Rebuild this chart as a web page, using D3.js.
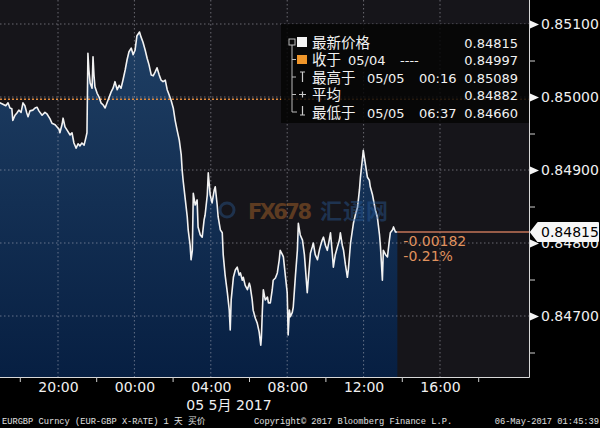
<!DOCTYPE html>
<html><head><meta charset="utf-8">
<script src="https://cdn.jsdelivr.net/npm/d3@7"></script>
<style>
html,body{margin:0;padding:0;background:#000;}
svg{display:block;}
</style></head><body>
<svg id="c" width="600" height="428"></svg>
<script>
// ---- data (EURGBP, 4-5 May 2017) ----
const times = ["16:57","17:07","17:16","17:23","17:29","17:35","17:38","17:45","17:51","17:57","18:04","18:10","18:16","18:22","18:26","18:32","18:41","18:48","18:54","19:00","19:10","19:19","19:25","19:35","19:41","19:51","19:57","20:03","20:06","20:13","20:16","20:22","20:28","20:38","20:44","20:50","20:57","21:03","21:09","21:15","21:22","21:28","21:31","21:34","21:37","21:41","21:47","21:50","21:53","21:56","22:03","22:09","22:15","22:22","22:28","22:34","22:40","22:47","22:53","22:59","23:06","23:12","23:18","23:24","23:31","23:37","23:43","23:50","23:56","00:02","00:08","00:16","00:21","00:27","00:34","00:40","00:46","00:53","00:59","01:05","01:11","01:18","01:24","01:30","01:37","01:43","01:49","01:55","02:02","02:08","02:14","02:21","02:27","02:30","02:33","02:40","02:46","02:49","02:55","02:58","03:02","03:05","03:11","03:17","03:20","03:27","03:33","03:39","03:42","03:49","03:52","03:58","04:04","04:11","04:14","04:20","04:23","04:30","04:36","04:39","04:45","04:52","04:58","05:01","05:04","05:11","05:17","05:23","05:29","05:33","05:39","05:42","05:48","05:55","06:01","06:04","06:10","06:13","06:20","06:26","06:32","06:37","06:39","06:42","06:45","06:51","06:58","07:01","07:07","07:13","07:16","07:23","07:29","07:35","07:38","07:45","07:48","07:54","08:00","08:03","08:07","08:10","08:16","08:19","08:26","08:32","08:35","08:41","08:48","08:54","08:57","09:03","09:06","09:13","09:19","09:22","09:28","09:35","09:41","09:44","09:50","09:54","10:00","10:06","10:12","10:16","10:22","10:25","10:31","10:38","10:44","10:47","10:53","10:57","11:03","11:09","11:12","11:19","11:25","11:28","11:34","11:41","11:47","11:50","11:56","11:59","12:06","12:12","12:18","12:21","12:28","12:31","12:37","12:43","12:50","12:53","12:59","13:02","13:09","13:15","13:21","13:24","13:31","13:34","13:40","13:46"];
const prices = [0.84992,0.84990,0.84988,0.84992,0.84985,0.84984,0.84968,0.84975,0.84978,0.84982,0.84979,0.84992,0.84988,0.84978,0.84973,0.84981,0.84982,0.84985,0.84986,0.84981,0.84975,0.84979,0.84977,0.84970,0.84964,0.84962,0.84959,0.84956,0.84951,0.84963,0.84971,0.84959,0.84955,0.84948,0.84951,0.84937,0.84930,0.84936,0.84933,0.84937,0.84934,0.84945,0.84951,0.85060,0.85037,0.85019,0.85012,0.85055,0.85030,0.85014,0.85005,0.85000,0.84992,0.84989,0.84985,0.84992,0.84999,0.85007,0.85012,0.85021,0.85010,0.85016,0.85012,0.85023,0.85037,0.85051,0.85062,0.85067,0.85058,0.85064,0.85084,0.85089,0.85082,0.85075,0.85064,0.85053,0.85044,0.85030,0.85029,0.85034,0.85040,0.85030,0.85023,0.85021,0.85023,0.85010,0.85003,0.84996,0.84985,0.84968,0.84955,0.84941,0.84921,0.84900,0.84886,0.84859,0.84836,0.84818,0.84797,0.84777,0.84790,0.84868,0.84852,0.84859,0.84822,0.84811,0.84808,0.84832,0.84838,0.84866,0.84896,0.84866,0.84855,0.84873,0.84877,0.84852,0.84836,0.84818,0.84814,0.84784,0.84756,0.84732,0.84708,0.84681,0.84722,0.84753,0.84763,0.84767,0.84756,0.84759,0.84749,0.84753,0.84742,0.84736,0.84745,0.84740,0.84722,0.84708,0.84697,0.84690,0.84678,0.84660,0.84671,0.84708,0.84736,0.84722,0.84726,0.84718,0.84718,0.84736,0.84749,0.84752,0.84759,0.84777,0.84790,0.84784,0.84781,0.84756,0.84732,0.84674,0.84708,0.84699,0.84705,0.84712,0.84756,0.84790,0.84827,0.84811,0.84804,0.84784,0.84767,0.84732,0.84749,0.84786,0.84795,0.84800,0.84784,0.84777,0.84790,0.84795,0.84804,0.84808,0.84797,0.84790,0.84804,0.84814,0.84784,0.84767,0.84784,0.84795,0.84804,0.84814,0.84797,0.84790,0.84770,0.84753,0.84763,0.84800,0.84818,0.84827,0.84838,0.84849,0.84873,0.84890,0.84914,0.84927,0.84907,0.84890,0.84886,0.84877,0.84866,0.84859,0.84845,0.84836,0.84811,0.84795,0.84749,0.84790,0.84784,0.84781,0.84804,0.84814,0.84818,0.84822,0.84815,0.84815];
const yTickValues = [0.851, 0.850, 0.849, 0.848, 0.847];
const yMinorValues = [0.8505, 0.8495, 0.8485, 0.8475, 0.8465];
const xLabelTimes = ["2017-05-04 20:00","2017-05-05 00:00","2017-05-05 04:00","2017-05-05 08:00","2017-05-05 12:00","2017-05-05 16:00"];
const xMinorTimes = ["2017-05-04 18:00","2017-05-04 22:00","2017-05-05 02:00","2017-05-05 06:00","2017-05-05 10:00","2017-05-05 14:00","2017-05-05 18:00"];
const lastPrice = 0.84815;
const prevClose = 0.84997;
const changeLabels = ["-0.00182", "-0.21%"];
const legendLabels = [["最新价格"], ["收于", "05/04", "----"], ["最高于", "05/05", "00:16"], ["平均"], ["最低于", "05/05", "06:37"]];
const legendValues = ["0.84815", "0.84997", "0.85089", "0.84882", "0.84660"];
const dateLabel = "05 5月 2017";
const footerLeft = "EURGBP Curncy (EUR-GBP X-RATE) 1 天  买价";
const footerMid = "Copyright© 2017 Bloomberg Finance L.P.";
const footerRight = "06-May-2017 01:45:39";

// ---- build ----
const svg = d3.select("#c");
const parseT = d3.timeParse("%Y-%m-%d %H:%M");
let day = 4, prev = -1;
const data = times.map((t, i) => {
  const [h, m] = t.split(":").map(Number);
  const mins = h * 60 + m;
  if (mins < prev) day++;
  prev = mins;
  return { t: new Date(2017, 4, day, h, m), v: prices[i] };
});

const P = { left: 0, right: 529, top: 0, bottom: 377 };
const x = d3.scaleTime().domain([parseT(xLabelTimes[0]), parseT(xLabelTimes[5])]).range([58, 440]);
const y = d3.scaleLinear().domain([0.847, 0.851]).range([316, 24]);
const NUM = "'DejaVu Sans', 'Noto Sans CJK SC', sans-serif";
const CJK = "'Noto Sans CJK SC', sans-serif";

const defs = svg.append("defs");
const grad = defs.append("linearGradient").attr("id", "ag").attr("gradientUnits", "userSpaceOnUse")
  .attr("x1", 0).attr("y1", 30).attr("x2", 0).attr("y2", P.bottom);
grad.append("stop").attr("offset", 0).attr("stop-color", "#1f3f64");
grad.append("stop").attr("offset", 1).attr("stop-color", "#071f42");
defs.append("clipPath").attr("id", "pc").append("rect")
  .attr("x", P.left).attr("y", P.top).attr("width", P.right - P.left).attr("height", P.bottom - P.top);

svg.append("rect").attr("width", 600).attr("height", 428).attr("fill", "#000");
svg.append("rect").attr("x", P.left).attr("y", P.top).attr("width", P.right - P.left)
  .attr("height", P.bottom - P.top).attr("fill", "#16151a");

const plot = svg.append("g").attr("clip-path", "url(#pc)");

plot.append("path").datum(data)
  .attr("d", d3.area().x(d => x(d.t)).y0(P.bottom).y1(d => y(d.v)))
  .attr("fill", "url(#ag)");

// grid
plot.selectAll("line.hg").data(yTickValues).join("line")
  .attr("x1", P.left).attr("x2", P.right).attr("y1", d => y(d)).attr("y2", d => y(d))
  .attr("stroke", "rgba(190,190,200,0.5)").attr("stroke-width", 1).attr("stroke-dasharray", "1.5,2.5");
plot.selectAll("line.vg").data(xLabelTimes.map(parseT)).join("line")
  .attr("x1", d => x(d)).attr("x2", d => x(d)).attr("y1", P.top).attr("y2", P.bottom)
  .attr("stroke", "rgba(190,190,200,0.5)").attr("stroke-width", 1).attr("stroke-dasharray", "1.5,2.5");

// legend background
svg.append("rect").attr("x", 281).attr("y", 24).attr("width", 248).attr("height", 99)
  .attr("fill", "#050505").attr("opacity", 0.85);

// previous close dotted line
plot.append("line").attr("x1", P.left).attr("x2", P.right)
  .attr("y1", y(prevClose)).attr("y2", y(prevClose))
  .attr("stroke", "#e08a3c").attr("stroke-width", 1.6).attr("stroke-dasharray", "2,2");

// watermark
const wm = svg.append("g").attr("opacity", 0.42);
wm.append("circle").attr("cx", 227).attr("cy", 210).attr("r", 7).attr("fill", "none")
  .attr("stroke", "#2b5a94").attr("stroke-width", 3);
wm.append("text").attr("x", 248).attr("y", 219).text("FX678").attr("textLength", 64)
  .attr("font-family", "'DejaVu Sans', sans-serif").attr("font-weight", "bold").attr("font-size", 21)
  .attr("fill", "#c0702c");
wm.append("text").attr("x", 320).attr("y", 219).text("汇通网").attr("textLength", 68)
  .attr("font-family", CJK).attr("font-weight", "bold").attr("font-size", 22)
  .attr("fill", "#2a5d9c");

// price line
plot.append("path").datum(data)
  .attr("d", d3.line().x(d => x(d.t)).y(d => y(d.v)))
  .attr("fill", "none").attr("stroke", "#f2f2f2").attr("stroke-width", 1.6).attr("stroke-linejoin", "round");

// last price line
const lastX = x(data[data.length - 1].t);
svg.append("line").attr("x1", lastX).attr("x2", P.right).attr("y1", y(lastPrice)).attr("y2", y(lastPrice))
  .attr("stroke", "#c47458").attr("stroke-width", 1.5);
svg.selectAll("text.chg").data(changeLabels).join("text")
  .attr("x", lastX + 6).attr("y", (d, i) => y(lastPrice) + 14 + i * 15)
  .attr("font-family", NUM).attr("font-size", 14).attr("fill", "#e0925e").text(d => d);

// axes frame
svg.append("line").attr("x1", P.right + 0.5).attr("x2", P.right + 0.5).attr("y1", 0).attr("y2", P.bottom + 0.5)
  .attr("stroke", "#d8d8d8").attr("stroke-width", 1);
svg.append("line").attr("x1", 0).attr("x2", P.right + 0.5).attr("y1", P.bottom + 0.5).attr("y2", P.bottom + 0.5)
  .attr("stroke", "#d8d8d8").attr("stroke-width", 1);

// right axis
const ra = svg.append("g").attr("transform", `translate(${P.right},0)`)
  .call(d3.axisRight(y).tickValues(yTickValues).tickFormat(d3.format(".5f")).tickSize(0).tickPadding(12));
ra.select(".domain").remove();
ra.selectAll("text").attr("font-family", NUM).attr("font-size", 14).attr("fill", "#f0f0f0");
ra.selectAll(".tick").append("path").attr("d", "M1,-4L10,0L1,4Z").attr("fill", "#f4f4f4");
svg.selectAll("line.ymin").data(yMinorValues).join("line")
  .attr("x1", P.right).attr("x2", P.right + 6).attr("y1", d => y(d) + 0.5).attr("y2", d => y(d) + 0.5)
  .attr("stroke", "#cfcfcf");

// last price box
const ly = y(lastPrice);
svg.append("path").attr("d", `M${P.right + 2},${ly} L${P.right + 9},${ly - 9} H598 V${ly + 9} H${P.right + 9} Z`)
  .attr("fill", "#f6f6f6").attr("stroke", "#f6f6f6").attr("stroke-linejoin", "round").attr("stroke-width", 2);
svg.append("text").attr("x", 541).attr("y", ly).attr("dy", "0.36em").text(d3.format(".5f")(lastPrice))
  .attr("font-family", NUM).attr("font-size", 14).attr("fill", "#000");

// bottom axis
const ba = svg.append("g").attr("transform", `translate(0,${P.bottom})`)
  .call(d3.axisBottom(x).tickValues(xLabelTimes.map(parseT)).tickFormat(d3.timeFormat("%H:%M")).tickSize(0).tickPadding(5));
ba.select(".domain").remove();
ba.selectAll("text").attr("font-family", NUM).attr("font-size", 14).attr("fill", "#f0f0f0");
svg.selectAll("line.xmin").data(xMinorTimes.map(parseT)).join("line")
  .attr("x1", d => x(d) + 0.5).attr("x2", d => x(d) + 0.5).attr("y1", P.bottom).attr("y2", P.bottom + 5)
  .attr("stroke", "#cfcfcf");
svg.append("text").attr("x", 229).attr("y", 410).attr("text-anchor", "middle").text(dateLabel)
  .attr("font-family", NUM).attr("font-size", 14).attr("fill", "#f0f0f0");

// legend
const rowY = [42, 59.5, 77, 94.5, 112];
const lg = svg.append("g");
lg.append("rect").attr("x", 289).attr("y", 39).attr("width", 6).attr("height", 6)
  .attr("fill", "none").attr("stroke", "#bbb").attr("stroke-width", 1);
lg.append("path").attr("d", `M292,45V${rowY[4]}H297M292,${rowY[1]}H296M292,${rowY[2]}H296M292,${rowY[3]}H296`)
  .attr("fill", "none").attr("stroke", "#bbb").attr("stroke-width", 1);
lg.append("rect").attr("x", 297).attr("y", 37).attr("width", 10).attr("height", 10).attr("fill", "#f4f4f4");
lg.append("rect").attr("x", 297).attr("y", 55).attr("width", 10).attr("height", 9).attr("fill", "#f0962a");
lg.append("path").attr("d", `M300,${rowY[2] - 5}H305M302.5,${rowY[2] - 5}V${rowY[2] + 5}`)
  .attr("stroke", "#ccc").attr("stroke-width", 1.2).attr("fill", "none");
lg.append("path").attr("d", `M299,${rowY[3]}H306M302.5,${rowY[3] - 3}V${rowY[3] + 3}`)
  .attr("stroke", "#ccc").attr("stroke-width", 1.2).attr("fill", "none");
lg.append("path").attr("d", `M302.5,${rowY[4] - 6}V${rowY[4] + 3}M300,${rowY[4] + 3}H305`)
  .attr("stroke", "#ccc").attr("stroke-width", 1.2).attr("fill", "none");
const segX = [[312], [312, 348, 400], [312, 367, 419], [312], [312, 367, 419]];
legendLabels.forEach((parts, i) => {
  parts.forEach((p, j) => {
    lg.append("text").attr("x", segX[i][j]).attr("y", rowY[i] + 5.5).attr("fill", "#f2f2f2")
      .attr("font-size", j === 0 ? 14.5 : 13).attr("font-family", NUM).text(p);
  });
});
lg.selectAll("text.val").data(legendValues).join("text")
  .attr("x", 518).attr("y", (d, i) => rowY[i] + 5.5).attr("text-anchor", "end")
  .attr("font-family", NUM).attr("font-size", 13).attr("fill", "#f2f2f2").text(d => d);

// footer
const FM = "'Liberation Mono', 'Noto Sans CJK SC', monospace";
svg.append("text").attr("x", 2).attr("y", 424).text(footerLeft)
  .attr("font-family", FM).attr("font-size", 8.7).attr("fill", "#e0e0e0");
svg.append("text").attr("x", 254).attr("y", 424).text(footerMid)
  .attr("font-family", FM).attr("font-size", 8.7).attr("fill", "#e0e0e0");
svg.append("text").attr("x", 599).attr("y", 424).attr("text-anchor", "end").text(footerRight)
  .attr("font-family", FM).attr("font-size", 8.7).attr("fill", "#e0e0e0");
</script>
</body></html>
